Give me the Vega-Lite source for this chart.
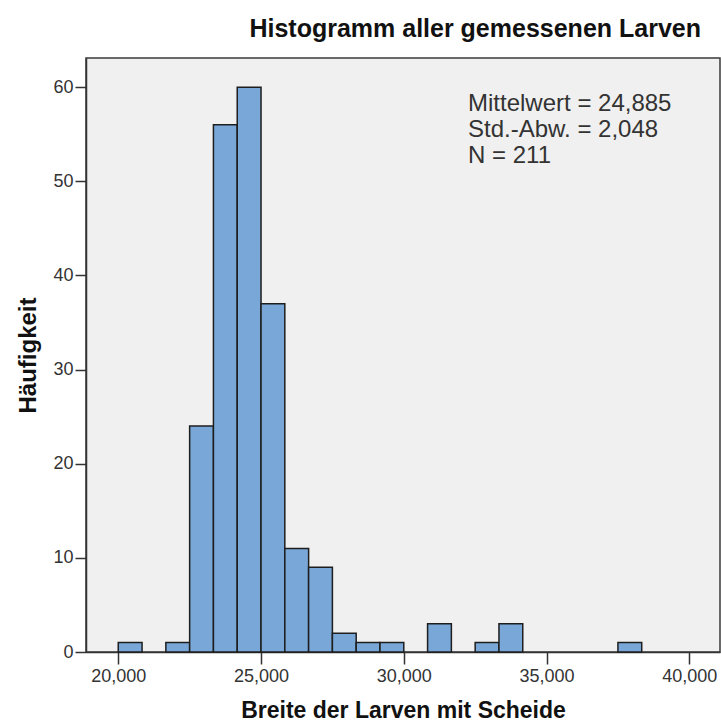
{
  "$schema": "https://vega.github.io/schema/vega-lite/v6.json",
  "autosize": {"type": "none"},
  "padding": {"left": 86, "top": 58, "right": 1, "bottom": 75},
  "width": 634,
  "height": 594,
  "background": "white",
  "config": {
    "font": "Liberation Sans",
    "view": {"fill": "#f0f0f0", "stroke": "#3a3a3a", "strokeWidth": 1.5}
  },
  "title": {
    "text": "Histogramm aller gemessenen Larven",
    "anchor": "end",
    "dx": -19,
    "offset": 16,
    "fontSize": 25,
    "fontWeight": "bold",
    "font": "Liberation Sans",
    "color": "#111"
  },
  "datasets": {
    "bins": [
      {"start": 20.0, "end": 20.8333, "count": 1},
      {"start": 21.6667, "end": 22.5, "count": 1},
      {"start": 22.5, "end": 23.3333, "count": 24},
      {"start": 23.3333, "end": 24.1667, "count": 56},
      {"start": 24.1667, "end": 25.0, "count": 60},
      {"start": 25.0, "end": 25.8333, "count": 37},
      {"start": 25.8333, "end": 26.6667, "count": 11},
      {"start": 26.6667, "end": 27.5, "count": 9},
      {"start": 27.5, "end": 28.3333, "count": 2},
      {"start": 28.3333, "end": 29.1667, "count": 1},
      {"start": 29.1667, "end": 30.0, "count": 1},
      {"start": 30.8333, "end": 31.6667, "count": 3},
      {"start": 32.5, "end": 33.3333, "count": 1},
      {"start": 33.3333, "end": 34.1667, "count": 3},
      {"start": 37.5, "end": 38.3333, "count": 1}
    ],
    "stats": [
      {"label": "Mittelwert = 24,885", "x": 32.25, "y": 57.45},
      {"label": "Std.-Abw. = 2,048", "x": 32.25, "y": 54.7},
      {"label": "N = 211", "x": 32.25, "y": 51.95}
    ]
  },
  "layer": [
    {
      "data": {"name": "bins"},
      "mark": {"type": "bar", "fill": "#79a8d8", "stroke": "#1e1e1e", "strokeWidth": 1.5},
      "encoding": {
        "x": {
          "field": "start",
          "type": "quantitative",
          "scale": {"domain": [18.87, 41.075], "nice": false, "zero": false},
          "axis": {
            "title": "Breite der Larven mit Scheide",
            "values": [20, 25, 30, 35, 40],
            "labelExpr": "replace(format(datum.value, '.3f'), '.', ',')",
            "grid": false,
            "domainColor": "#333",
            "domainWidth": 1.5,
            "tickColor": "#333",
            "tickWidth": 1.5,
            "tickSize": 12,
            "labelPadding": 3,
            "labelFontSize": 18,
            "labelColor": "#333",
            "titleFontSize": 23,
            "titleFontWeight": "bold",
            "titleColor": "#111",
            "titlePadding": 14
          }
        },
        "x2": {"field": "end"},
        "y": {
          "field": "count",
          "type": "quantitative",
          "scale": {"domain": [0, 63.1], "nice": false},
          "axis": {
            "title": "Häufigkeit",
            "values": [0, 10, 20, 30, 40, 50, 60],
            "grid": false,
            "domainColor": "#333",
            "domainWidth": 1.5,
            "tickColor": "#333",
            "tickWidth": 1.5,
            "tickSize": 11,
            "labelPadding": 2,
            "labelFontSize": 18,
            "labelColor": "#333",
            "titleFontSize": 24,
            "titleFontWeight": "bold",
            "titleColor": "#111",
            "titlePadding": 12
          }
        },
        "y2": {"datum": 0}
      }
    },
    {
      "data": {"name": "stats"},
      "mark": {"type": "text", "align": "left", "baseline": "alphabetic", "fontSize": 24, "color": "#333", "font": "Liberation Sans"},
      "encoding": {
        "x": {"field": "x", "type": "quantitative"},
        "y": {"field": "y", "type": "quantitative"},
        "text": {"field": "label"}
      }
    }
  ]
}
